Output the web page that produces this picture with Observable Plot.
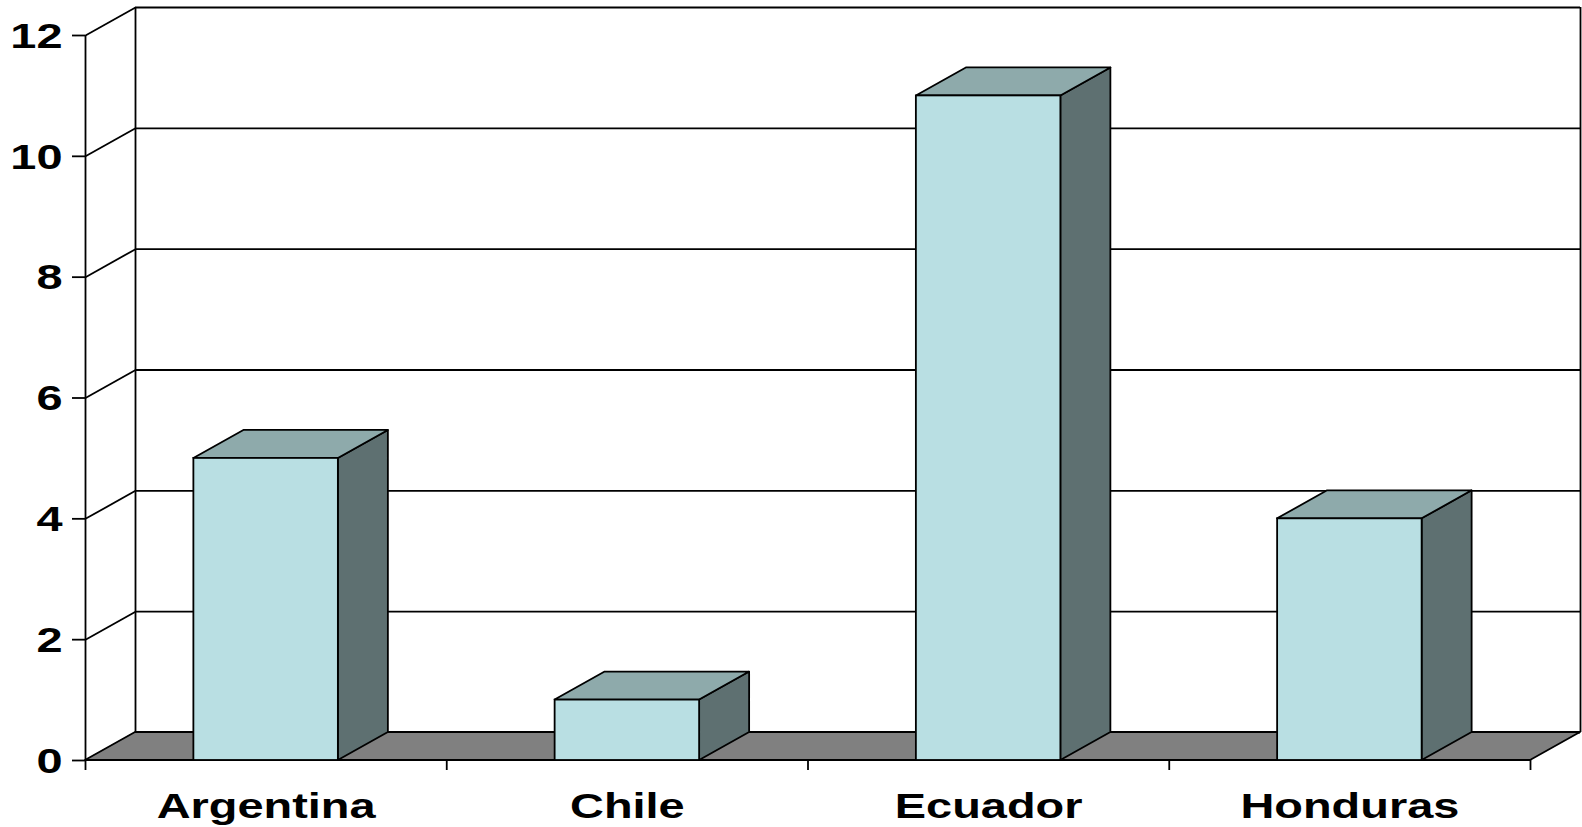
<!DOCTYPE html>
<html>
<head>
<meta charset="utf-8">
<script src="https://cdn.jsdelivr.net/npm/d3@7"></script>
<script src="https://cdn.jsdelivr.net/npm/@observablehq/plot@0.6"></script>
<style>
  html, body { margin: 0; padding: 0; background: #fff; }
</style>
</head>
<body>
<script>
const categories = ["Argentina", "Chile", "Ecuador", "Honduras"];
const values = [5, 1, 11, 4];
const yTicks = [0, 2, 4, 6, 8, 10, 12];

// 3D look (in data units): depth offset and bar placement inside each category slot
const yMax = 12;
const n = categories.length;
const DX = 50 / 361.25;      // depth, x direction
const DY = 28 / 60.4167;     // depth, y direction
const INSET = 0.3, BW = 0.4; // bar front face inside slot
const TICK = 13 / 361.25, XTICK = 10 / 60.4167;

const bars = categories.map((c, i) => ({c, i, v: values[i]}));
const sideData = bars.flatMap(b => [
  {c: b.c, x: b.i + INSET + BW, y1: 0, y2: b.v},
  {c: b.c, x: b.i + INSET + BW + DX, y1: DY, y2: b.v + DY}
]);
const topData = bars.flatMap(b => [
  {c: b.c, y: b.v, x1: b.i + INSET, x2: b.i + INSET + BW},
  {c: b.c, y: b.v + DY, x1: b.i + INSET + DX, x2: b.i + INSET + BW + DX}
]);
const floorData = [
  {y: 0, x1: 0, x2: n},
  {y: DY, x1: DX, x2: n + DX}
];

const FRONT = "#b9dfe3", TOP = "#8eaaab", SIDE = "#5e7071", FLOOR = "#808080";
const SW = 1.8;

const svg = Plot.plot({
  width: 1582,
  height: 827,
  marginLeft: 85,
  marginRight: 2,
  marginTop: 7,
  marginBottom: 67,
  x: {type: "linear", domain: [0, n + DX], axis: null},
  y: {type: "linear", domain: [0, yMax + DY], axis: null},
  style: {fontFamily: "'Liberation Sans', Arial, sans-serif", background: "#fff", overflow: "visible"},
  marks: [
    // back wall gridlines + borders
    Plot.ruleY(yTicks, {y: d => d + DY, x1: DX, x2: n + DX, stroke: "black", strokeWidth: SW}),
    Plot.ruleX([DX, n + DX], {y1: DY, y2: yMax + DY, stroke: "black", strokeWidth: SW}),
    // side wall gridlines
    Plot.link(yTicks, {x1: 0, y1: d => d, x2: DX, y2: d => d + DY, stroke: "black", strokeWidth: SW}),
    // floor
    Plot.areaX(floorData, {y: "y", x1: "x1", x2: "x2", fill: FLOOR, stroke: "black", strokeWidth: SW}),
    // front axis line and ticks
    Plot.ruleX([0], {y1: 0, y2: yMax, stroke: "black", strokeWidth: SW}),
    Plot.ruleY(yTicks, {x1: -TICK, x2: 0, stroke: "black", strokeWidth: SW}),
    Plot.ruleX(d3.range(n + 1), {y1: -XTICK, y2: 0, stroke: "black", strokeWidth: SW}),
    // bars
    Plot.areaY(sideData, {x: "x", y1: "y1", y2: "y2", z: "c", fill: SIDE, stroke: "black", strokeWidth: SW}),
    Plot.areaX(topData, {y: "y", x1: "x1", x2: "x2", z: "c", fill: TOP, stroke: "black", strokeWidth: SW}),
    Plot.rect(bars, {x1: d => d.i + INSET, x2: d => d.i + INSET + BW, y1: 0, y2: "v", fill: FRONT, stroke: "black", strokeWidth: SW}),
    // labels
    Plot.text(yTicks, {x: 0, y: d => d, text: d => String(d), textAnchor: "end", dx: -23, dy: 1, fontSize: 35, fontWeight: "bold", fill: "black"}),
    Plot.text(bars, {x: d => d.i + 0.5, y: 0, text: "c", dy: 46, fontSize: 35, fontWeight: "bold", fill: "black"})
  ]
});

document.body.append(svg);

// horizontally stretched lettering, as in the reference
svg.querySelectorAll("text").forEach(t => {
  const x = +(t.getAttribute("x") || 0);
  const tr = t.getAttribute("transform") || "";
  t.setAttribute("transform", `${tr} translate(${x},0) scale(1.34,1) translate(${-x},0)`.trim());
});
</script>
</body>
</html>
